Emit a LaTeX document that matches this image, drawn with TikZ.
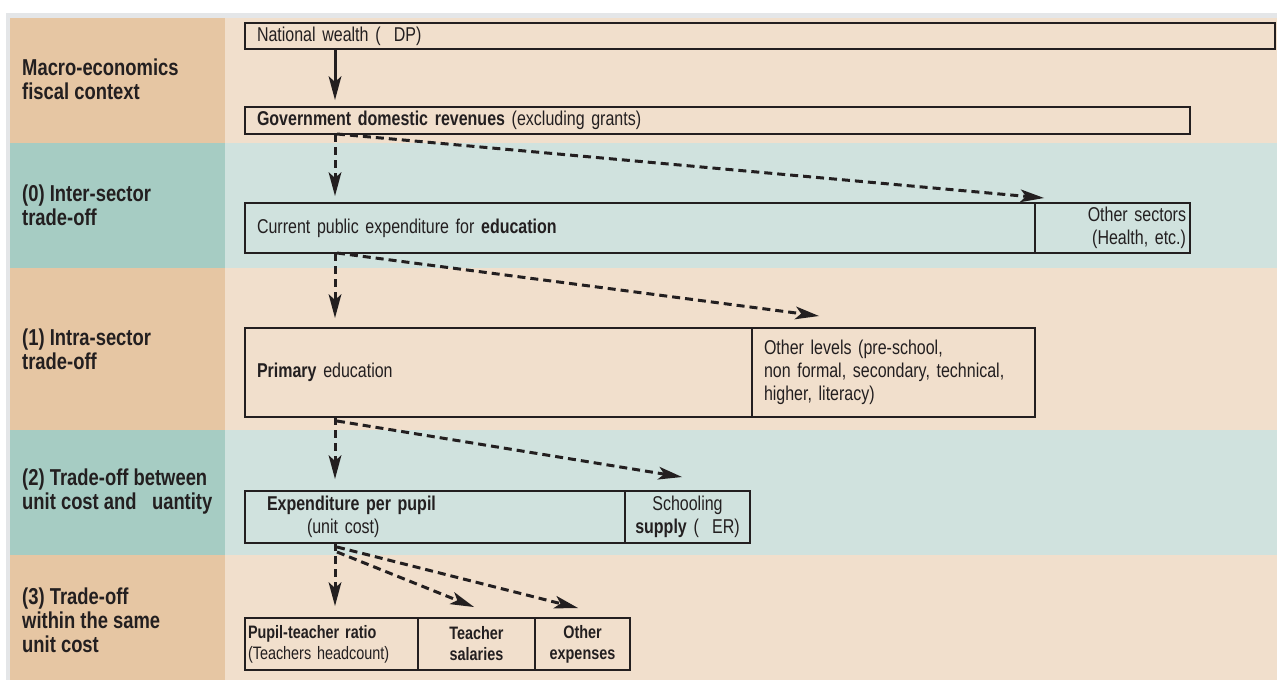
\documentclass[tikz,border=0pt]{standalone}
\usepackage{fontspec}
\setmainfont{Liberation Sans}[FakeStretch=0.8]
\usetikzlibrary{arrows.meta, positioning, calc}
\definecolor{framegray}{HTML}{E4E6E8}
\definecolor{bandtan}{HTML}{E6C6A3}
\definecolor{bandpeach}{HTML}{F1DFCC}
\definecolor{bandteal}{HTML}{A6CCC3}
\definecolor{bandmint}{HTML}{D0E2DE}
\definecolor{inkdark}{HTML}{231F20}
\newcommand{\boxfont}{\fontsize{20}{23}\selectfont}
\newcommand{\smallfont}{\fontsize{18}{21}\selectfont}
\newcommand{\lblfont}{\bfseries\fontsize{23}{24}\selectfont}

\begin{document}
\begin{tikzpicture}[
  x=1pt, y=-1pt,
  box/.style      = {draw=inkdark, line width=2.4pt, anchor=north west, outer sep=0pt,
                     inner xsep=12pt, inner ysep=0pt, align=left, font=\boxfont, text=inkdark},
  smallbox/.style = {box, inner xsep=3pt, align=center, font=\smallfont},
  lbl/.style      = {anchor=west, align=left, font=\lblfont, text=inkdark, inner sep=0pt},
  solidarrow/.style = {line width=3pt, draw=inkdark,
                       -{Stealth[length=24pt,width=13pt,inset=6pt,line width=0pt]}, shorten >=7pt},
  dasharrow/.style  = {solidarrow, dash pattern=on 8pt off 5pt}
]
\useasboundingbox (0,0) rectangle (1277,680);

% bands
\fill[white] (0,0) rectangle (1277,680);
\fill[framegray] (6,13) rectangle (1277,680);
\fill[bandtan]   (10,18)  rectangle (225,143);
\fill[bandpeach] (225,18) rectangle (1277,143);
\fill[bandteal]  (10,143)  rectangle (225,268);
\fill[bandmint]  (225,143) rectangle (1277,268);
\fill[bandtan]   (10,268)  rectangle (225,430);
\fill[bandpeach] (225,268) rectangle (1277,430);
\fill[bandteal]  (10,430)  rectangle (225,555);
\fill[bandmint]  (225,430) rectangle (1277,555);
\fill[bandtan]   (10,555)  rectangle (225,680);
\fill[bandpeach] (225,555) rectangle (1277,680);

% row labels
\node[lbl] (l0) at (22,79)  {Macro-economics\\fiscal context};
\node[lbl] (l1) at (22,205) {(0) Inter-sector\\trade-off};
\node[lbl] (l2) at (22,349) {(1) Intra-sector\\trade-off};
\node[lbl] (l3) at (22,492) {(2) Trade-off between\\unit cost and \ \ uantity};
\node[lbl] (l4) at (22,620) {(3) Trade-off\\within the same\\unit cost};

% boxes
\node[box, minimum width=1030pt, minimum height=26pt, text width=1006pt] (nw)  at (245,23)  {National wealth ( \ DP)};
\node[box, minimum width=945pt, minimum height=27pt, text width=921pt]   (gov) at (245,107) {\textbf{Government domestic revenues} (excluding grants)};
\node[box, minimum width=790pt, minimum height=50pt, text width=766pt]   (edu) at (245,203) {Current public expenditure for \textbf{education}};
\node[box, minimum width=155pt, minimum height=50pt, text width=147pt, inner xsep=4pt, align=right] (oth) at (1035,203) {Other sectors\\(Health, etc.)};
\node[box, minimum width=507pt, minimum height=89pt, text width=483pt]   (pri) at (245,328) {\textbf{Primary} education};
\node[box, minimum width=283pt, minimum height=89pt, text width=259pt]   (lev) at (752,328) {Other levels (pre-school,\\non formal, secondary, technical,\\higher, literacy)};
\node[box, minimum width=380pt, minimum height=52pt, text width=336pt, inner xsep=22pt] (epp) at (245,491) {\textbf{Expenditure per pupil}\\\hspace*{40pt}(unit cost)};
\node[box, minimum width=125pt, minimum height=52pt, text width=117pt, inner xsep=4pt, align=center] (sup) at (625,491) {Schooling\\\textbf{supply} ( \ ER)};
\node[smallbox, minimum width=173pt, minimum height=52pt, text width=167pt, align=left] (ptr) at (245,618) {\textbf{Pupil-teacher ratio}\\(Teachers headcount)};
\node[smallbox, minimum width=117pt, minimum height=52pt, text width=111pt, font=\smallfont\bfseries] (sal) at (418,618) {Teacher\\salaries};
\node[smallbox, minimum width=95pt, minimum height=52pt, text width=89pt, font=\smallfont\bfseries]  (oex) at (535,618) {Other\\expenses};

% arrows
\coordinate (c0) at (335,0);
\coordinate (t1) at (1044,198);
\coordinate (t2) at (819,316);
\coordinate (t3) at (682,477);
\coordinate (t4) at (474,607);
\coordinate (t5) at (578,608);

\draw[solidarrow] (nw.south -| c0) -- (gov.north -| c0);
\draw[dasharrow] (gov.south -| c0) -- (edu.north -| c0);
\draw[dasharrow, shorten >=0pt] ($(gov.south -| c0)+(2,0)$) -- (t1);
\draw[dasharrow, shorten >=10pt] (edu.south -| c0) -- (pri.north -| c0);
\draw[dasharrow, shorten >=0pt] ($(edu.south -| c0)+(2,0)$) -- (t2);
\draw[dasharrow, shorten >=12pt] (pri.south -| c0) -- (epp.north -| c0);
\draw[dasharrow, shorten >=0pt] ($(pri.south -| c0)+(2,4)$) -- (t3);
\draw[dasharrow, shorten >=12pt] (epp.south -| c0) -- (ptr.north -| c0);
\draw[dasharrow, shorten >=0pt] ($(epp.south -| c0)+(2,4)$) -- (t5);
\draw[dasharrow, shorten >=0pt] ($(epp.south -| c0)+(2,9)$) -- (t4);

\end{tikzpicture}
\end{document}
